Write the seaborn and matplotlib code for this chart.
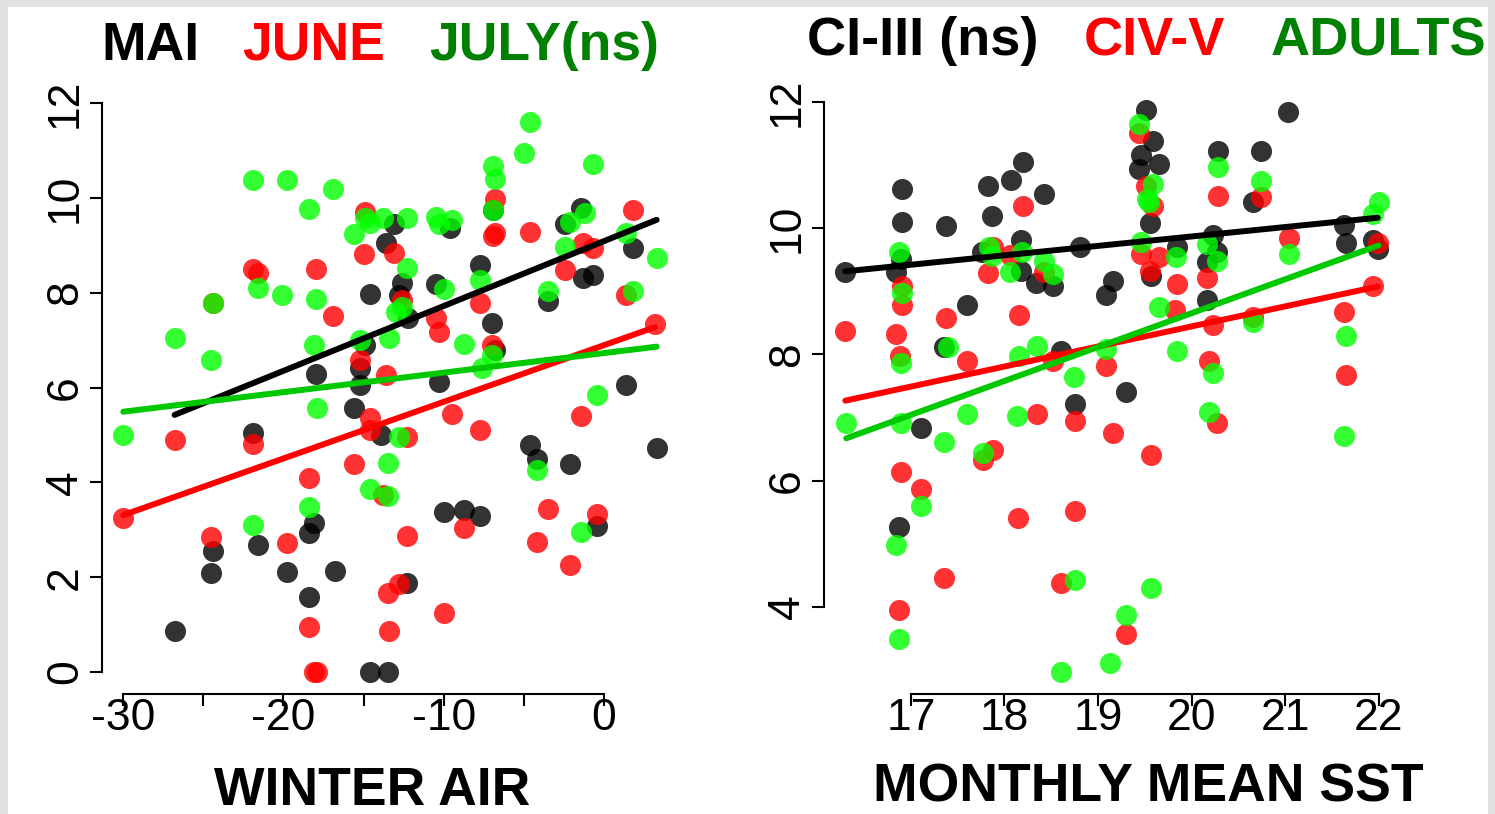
import numpy as np
import seaborn as sns
import matplotlib.pyplot as plt
from matplotlib.patches import Rectangle

# --- left panel : winter air temperature ---
mai_x = [-26.8, -24.4, -24.5, -21.9, -21.6, -19.8, -18.4, -18.1, -18.4, -18.0, -16.8, -15.6,
         -15.2, -15.2, -14.9, -13.9, -14.6, -14.6, -13.5, -13.6, -13.1, -12.6, -12.8, -12.2,
         -12.3, -10.3, -10.5, -10.0, -9.6, -8.7, -7.7, -7.7, -7.0, -6.8, -6.9, -4.6, -4.2,
         -3.5, -2.4, -2.1, -1.4, -1.3, -0.7, -0.4, 1.4, 1.8, 3.3]
mai_y = [0.86, 2.55, 2.09, 5.04, 2.68, 2.11, 2.93, 3.14, 1.58, 6.28, 2.12, 5.57,
         6.41, 6.05, 6.90, 5.00, 7.97, 0.00, 0.00, 9.05, 9.45, 8.20, 7.95, 7.47,
         1.88, 6.12, 8.18, 3.37, 9.36, 3.42, 3.29, 8.58, 7.36, 6.79, 9.74, 4.79, 4.49,
         7.82, 9.45, 4.39, 9.79, 8.31, 8.37, 3.08, 6.05, 8.94, 4.72]

june_x = [-30.0, -26.8, -24.4, -24.5, -21.9, -21.6, -21.9, -19.8, -18.4, -18.0, -18.4, -18.1,
          -17.9, -16.9, -15.6, -15.2, -15.0, -14.9, -14.6, -14.6, -13.6, -13.8, -13.1, -13.4,
          -13.5, -12.8, -12.6, -12.3, -12.3, -10.5, -10.3, -10.0, -9.5, -8.7, -7.7, -7.7,
          -7.0, -6.8, -6.9, -6.8, -4.6, -4.2, -3.5, -2.4, -2.1, -1.4, -1.3, -0.7, -0.4,
          1.4, 1.8, 3.2]
june_y = [3.25, 4.89, 7.78, 2.85, 8.50, 8.41, 4.81, 2.72, 4.09, 8.50, 0.95, 0.00,
          0.00, 7.51, 4.39, 6.58, 8.82, 9.70, 5.36, 5.10, 6.26, 3.73, 8.84, 0.86,
          1.67, 1.86, 7.84, 4.96, 2.87, 7.47, 7.17, 1.24, 5.44, 3.04, 7.78, 5.10,
          6.90, 9.97, 9.19, 9.25, 9.28, 2.74, 3.44, 8.48, 2.26, 5.40, 9.05, 8.94, 3.33,
          7.95, 9.74, 7.34]

july_x = [-30.0, -26.8, -24.5, -24.4, -21.9, -21.6, -21.9, -20.1, -19.8, -18.4, -18.0, -18.1,
          -17.9, -18.4, -16.9, -15.6, -15.2, -14.9, -14.6, -13.8, -14.6, -13.5, -13.5, -13.4,
          -12.8, -12.3, -12.3, -12.6, -13.0, -10.5, -10.3, -10.0, -9.5, -8.7, -7.7, -7.6,
          -7.0, -6.9, -6.8, -6.9, -5.0, -4.6, -4.2, -3.5, -2.4, -2.1, -1.2, -1.4, -0.7,
          -0.4, 1.4, 1.8, 3.3]
july_y = [5.00, 7.04, 6.58, 7.78, 10.38, 8.10, 3.10, 7.95, 10.38, 9.76, 7.87, 6.90,
          5.57, 3.48, 10.19, 9.24, 7.00, 9.57, 9.47, 9.57, 3.86, 4.41, 3.71, 7.04,
          4.96, 9.57, 8.52, 7.70, 7.59, 9.60, 9.45, 8.08, 9.53, 6.92, 8.27, 6.41,
          6.68, 10.67, 10.40, 9.74, 10.94, 11.60, 4.26, 8.03, 8.96, 9.49, 9.68, 2.95, 10.71,
          5.84, 9.26, 8.03, 8.73]

# fitted lines as printed on the figure (intercept, slope)
left_fits = [(9.086, 0.1367), (6.892, 0.1194), (6.726, 0.0412)]

# --- right panel : monthly mean SST ---
ci3_x = [16.30, 16.91, 16.91, 16.90, 16.84, 17.38, 17.60, 17.35, 17.83, 18.07, 18.20, 18.42,
         17.87, 17.76, 18.18, 18.18, 18.34, 18.52, 18.60, 19.16, 19.09, 18.81, 19.51, 19.59,
         19.46, 19.44, 19.65, 19.56, 19.57, 19.84, 20.23, 20.27, 20.17, 20.17, 20.28, 20.74,
         20.66, 21.03, 21.63, 21.65, 21.94, 21.99, 19.30, 17.11, 18.75, 16.87]
ci3_y = [9.31, 10.62, 10.10, 9.52, 9.30, 10.03, 8.79, 8.11, 10.67, 10.76, 11.06, 10.54,
         10.19, 9.63, 9.81, 9.32, 9.14, 9.08, 8.05, 9.16, 8.95, 9.71, 11.87, 11.38,
         11.17, 10.94, 11.02, 10.08, 9.24, 9.71, 9.90, 9.62, 9.46, 8.87, 11.22, 11.22,
         10.41, 11.84, 10.05, 9.76, 9.81, 9.68, 7.41, 6.84, 7.22, 5.27]

civ_x = [16.30, 16.91, 16.91, 16.84, 16.88, 17.38, 17.60, 17.88, 17.83, 18.20, 18.06, 18.42,
         18.16, 18.52, 19.09, 19.44, 19.51, 19.59, 19.46, 19.65, 19.56, 19.85, 19.82, 20.17,
         20.23, 20.19, 20.28, 20.74, 21.04, 20.66, 21.99, 21.94, 21.63, 21.65, 17.88, 17.77,
         18.35, 18.75, 16.89, 17.11, 18.15, 18.75, 17.35, 18.60, 16.87, 19.16, 20.27, 19.57,
         19.30]
civ_y = [8.37, 9.08, 8.78, 8.32, 7.97, 8.57, 7.89, 9.71, 9.29, 10.35, 9.57, 9.30,
         8.63, 7.89, 7.81, 11.52, 10.67, 10.35, 9.59, 9.54, 9.32, 9.11, 8.71, 9.22,
         8.46, 7.89, 10.52, 10.49, 9.84, 8.60, 9.76, 9.08, 8.67, 7.68, 6.48, 6.33,
         7.05, 6.94, 6.13, 5.86, 5.41, 5.51, 4.46, 4.37, 3.95, 6.75, 6.92, 6.40,
         3.56]

adult_x = [16.87, 16.91, 16.89, 17.40, 17.84, 17.87, 18.19, 18.06, 18.42, 18.52, 18.16, 18.35,
           18.74, 19.09, 19.44, 19.59, 19.52, 19.55, 19.46, 19.83, 19.65, 19.85, 20.17, 20.27,
           20.23, 20.28, 20.74, 21.04, 20.66, 22.00, 21.94, 21.65, 16.31, 16.89, 17.35, 17.60,
           17.77, 18.14, 17.11, 16.84, 18.75, 16.87, 18.60, 19.13, 20.19, 21.63, 19.57, 19.30]
adult_y = [9.62, 8.98, 7.87, 8.11, 9.71, 9.56, 9.62, 9.30, 9.48, 9.27, 7.97, 8.13,
           7.64, 8.08, 11.65, 10.71, 10.46, 10.41, 9.79, 9.54, 8.76, 8.05, 9.75, 9.48,
           7.71, 10.97, 10.75, 9.59, 8.52, 10.41, 10.22, 8.29, 6.92, 6.92, 6.61, 7.06,
           6.44, 7.03, 5.59, 4.97, 4.43, 3.48, 2.97, 3.11, 7.08, 6.70, 4.29, 3.86]

right_fits = [(6.883, 0.1494), (2.082, 0.3181), (-2.102, 0.5378)]

left_words = ["MAI", "JUNE", "JULY(ns)"]
right_words = ["CI-III (ns)", "CIV-V", "ADULTS"]
left_xticks = [-30, -25, -20, -15, -10, -5, 0]
left_xticklabels = ["-30", "", "-20", "", "-10", "", "0"]
left_yticks = [0, 2, 4, 6, 8, 10, 12]
right_xticks = [17, 18, 19, 20, 21, 22]
right_yticks = [4, 6, 8, 10, 12]

pt_cols = ["#000000", "#ff0000", "#00ff00"]
line_cols = ["#000000", "#ff0000", "#00c800"]
word_cols = ["#000000", "#ff0000", "#008000"]

sns.set_style("white")
plt.rcParams['font.family'] = ['Liberation Sans', 'DejaVu Sans']
plt.rcParams['text.color'] = 'black'
plt.rcParams['axes.labelcolor'] = 'black'

W, H = 1495, 814
fig = plt.figure(figsize=(W / 100, H / 100), dpi=100, facecolor="#e1e1e1")
fig.patches.append(Rectangle((8 / W, 0), 1480 / W, 807 / H, transform=fig.transFigure,
                             facecolor="white", edgecolor="none", zorder=-5))


def px_axes(l, r, t, b):
    return fig.add_axes([l / W, 1 - b / H, (r - l) / W, (b - t) / H], facecolor="none")


def r_limits(vals):
    lo, hi = min(vals), max(vals)
    d = (hi - lo) * 0.04
    return lo - d, hi + d


def panel(ax, series, fits, xb, yb):
    # points first (black, red, green), then fitted lines on top
    for (x, y), c in zip(series, pt_cols):
        sns.scatterplot(x=x, y=y, ax=ax, color=c, s=230, alpha=0.8, linewidth=0, zorder=2)
    for (x, y), (a, b), c in zip(series, fits, line_cols):
        xr = np.array([min(x), max(x)])
        sns.lineplot(x=xr, y=a + b * xr, ax=ax, color=c, lw=4.3,
                     solid_capstyle="round", zorder=3)
    allx = sum([s[0] for s in series], [])
    ally = sum([s[1] for s in series], [])
    ax.set_xlim(*r_limits(allx))
    ax.set_ylim(*r_limits(ally))
    sns.despine(ax=ax)
    ax.spines["left"].set_bounds(*yb)
    ax.spines["bottom"].set_bounds(*xb)
    for s in ["left", "bottom"]:
        ax.spines[s].set_linewidth(1.5)
        ax.spines[s].set_color("black")
    ax.tick_params(direction="out", length=8.6, width=1.5, color="black", labelsize=32,
                   labelcolor="black", left=True, bottom=True)
    ax.tick_params(axis="x", pad=-6)
    ax.tick_params(axis="y", pad=3, labelrotation=90)
    ax.set_xlabel("")
    ax.set_ylabel("")


ax1 = px_axes(102, 678, 100, 694)
panel(ax1, [(mai_x, mai_y), (june_x, june_y), (july_x, july_y)], left_fits, (-30, 0), (0, 12))
ax1.set_xticks(left_xticks)
ax1.set_xticklabels(left_xticklabels)
ax1.set_yticks(left_yticks)
ax1.set_yticklabels([str(v) for v in left_yticks])

ax2 = px_axes(824, 1400, 88, 694)
panel(ax2, [(ci3_x, ci3_y), (civ_x, civ_y), (adult_x, adult_y)], right_fits, (17, 22), (4, 12))
ax2.set_xticks(right_xticks)
ax2.set_xticklabels([str(v) for v in right_xticks])
ax2.set_yticks(right_yticks)
ax2.set_yticklabels([str(v) for v in right_yticks])

for ax in (ax1, ax2):
    for t in ax.get_yticklabels():
        t.set_va("center")

ax1.set_xlabel("WINTER AIR", fontsize=38.5, fontweight="bold", va="baseline", color="black")
ax1.xaxis.set_label_coords(372 / W, 1 - 805 / H, transform=fig.transFigure)
ax2.set_xlabel("MONTHLY MEAN SST", fontsize=38.5, fontweight="bold", va="baseline",
               color="black")
ax2.xaxis.set_label_coords(1148 / W, 1 - 802 / H, transform=fig.transFigure)

# coloured headers
for word, x0, c in zip(left_words, [101, 242, 429], word_cols):
    fig.text(x0 / W, 1 - 60 / H, word, color=c, fontsize=38.5, fontweight="bold",
             ha="left", va="baseline")
for word, x0, c in zip(right_words, [807, 1084, 1271], word_cols):
    fig.text(x0 / W, 1 - 55 / H, word, color=c, fontsize=39, fontweight="bold",
             ha="left", va="baseline")

fig.savefig("out.png", dpi=100, facecolor=fig.get_facecolor())
